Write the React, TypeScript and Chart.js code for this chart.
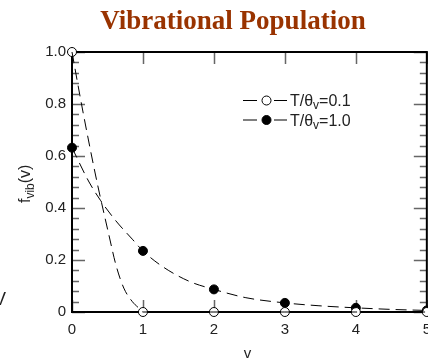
import { useEffect, useRef } from "react";
import { Chart, registerables } from "chart.js";
Chart.register(...registerables);

// Vibrational levels and populations (markers)
const vLevels = [0, 1, 2, 3, 4, 5];
const popLow = [1.0, 0, 0, 0, 0, 0]; // T/θv = 0.1
const popHigh = [0.632, 0.235, 0.087, 0.035, 0.016, 0.006]; // T/θv = 1.0

// Dashed curves
const curveLowV = [0, 0.12, 0.24, 0.36, 0.45, 0.52, 0.62, 0.73, 0.85, 0.95, 1.0, 2, 3, 4, 5];
const curveLowF = [1.0, 0.82, 0.65, 0.49, 0.38, 0.296, 0.18, 0.092, 0.04, 0.013, 0, 0, 0, 0, 0];
const curveHighV = [0, 0.24, 0.4, 0.62, 0.85, 1.0, 1.28, 1.66, 2.0, 2.45, 3.0, 3.48, 4.0, 4.5, 5.0];
const curveHighF = [0.632, 0.5, 0.43, 0.35, 0.28, 0.235, 0.174, 0.117, 0.087, 0.055, 0.035, 0.024, 0.016, 0.01, 0.006];

const xTicks = [0, 1, 2, 3, 4, 5];
const yTicks = [0, 0.2, 0.4, 0.6, 0.8, 1.0];

const titleText = "Vibrational Population";
const legendLabels = [
  { main: "T/θ", sub: "v", rest: "=0.1", filled: false },
  { main: "T/θ", sub: "v", rest: "=1.0", filled: true },
];

const SANS = '"Liberation Sans", Arial, Helvetica, sans-serif';
const SERIF = '"Liberation Serif", "Times New Roman", serif';

const zip = (xs: number[], ys: number[]) => xs.map((x, i) => ({ x, y: ys[i] }));

const framePlugin = {
  id: "frameTicks",
  beforeDatasetsDraw(chart: any) {
    const { ctx, chartArea: a, scales } = chart;
    const x = scales.x;
    const y = scales.y;
    ctx.save();
    ctx.strokeStyle = "#666";
    ctx.lineWidth = 1.5;
    ctx.beginPath();
    for (let i = 0; i <= 25; i++) {
      const py = Math.round(y.getPixelForValue(i * 0.04)) + 0.5;
      const len = i % 5 === 0 ? 13 : 7;
      ctx.moveTo(a.left, py);
      ctx.lineTo(a.left + len, py);
      ctx.moveTo(a.right, py);
      ctx.lineTo(a.right - len, py);
    }
    xTicks.forEach((v) => {
      const px = Math.round(x.getPixelForValue(v)) + 0.5;
      ctx.moveTo(px, a.bottom);
      ctx.lineTo(px, a.bottom - 12);
      ctx.moveTo(px, a.top);
      ctx.lineTo(px, a.top + 12);
    });
    ctx.stroke();
    ctx.strokeStyle = "#000";
    ctx.lineWidth = 2;
    ctx.strokeRect(a.left, a.top, a.right - a.left, a.bottom - a.top);
    ctx.restore();
  },
  afterDraw(chart: any) {
    const { ctx, chartArea: a } = chart;
    ctx.save();
    // Title
    ctx.fillStyle = "#993300";
    ctx.font = `bold 27px ${SERIF}`;
    ctx.textAlign = "center";
    ctx.textBaseline = "alphabetic";
    ctx.fillText(titleText, 233, 29);

    // Y axis title f_vib(v)
    ctx.fillStyle = "#222";
    ctx.translate(30, 203);
    ctx.rotate(-Math.PI / 2);
    ctx.textAlign = "left";
    ctx.font = `16px ${SANS}`;
    ctx.fillText("f", 0, 0);
    let w = ctx.measureText("f").width;
    ctx.font = `12px ${SANS}`;
    ctx.fillText("vib", w, 4);
    w += ctx.measureText("vib").width;
    ctx.font = `16px ${SANS}`;
    ctx.fillText("(v)", w, 0);
    ctx.setTransform(1, 0, 0, 1, 0, 0);

    // X axis title
    ctx.font = `15px ${SANS}`;
    ctx.textAlign = "center";
    ctx.fillText("v", (a.left + a.right) / 2 - 2, 358);

    // Cut-off letter at left edge
    ctx.font = `18px ${SANS}`;
    ctx.fillText("V", 0, 305);

    // Legend
    legendLabels.forEach((item, i) => {
      const cy = 100 + i * 19.5;
      ctx.strokeStyle = "#000";
      ctx.lineWidth = 1;
      ctx.beginPath();
      ctx.moveTo(243, cy + 0.5);
      ctx.lineTo(257, cy + 0.5);
      ctx.moveTo(274, cy + 0.5);
      ctx.lineTo(287, cy + 0.5);
      ctx.stroke();
      ctx.beginPath();
      ctx.arc(266.5, cy + 0.5, 4.5, 0, Math.PI * 2);
      ctx.fillStyle = item.filled ? "#000" : "#fff";
      ctx.fill();
      ctx.stroke();
      ctx.fillStyle = "#222";
      ctx.textAlign = "left";
      ctx.font = `16px ${SANS}`;
      let tx = 290;
      ctx.fillText(item.main, tx, cy + 6);
      tx += ctx.measureText(item.main).width;
      ctx.font = `12px ${SANS}`;
      ctx.fillText(item.sub, tx, cy + 9);
      tx += ctx.measureText(item.sub).width;
      ctx.font = `16px ${SANS}`;
      ctx.fillText(item.rest, tx, cy + 6);
    });
    ctx.restore();
  },
};

export default function App() {
  const ref = useRef<HTMLCanvasElement | null>(null);
  useEffect(() => {
    if (!ref.current) return;
    const chart = new Chart(ref.current, {
      type: "scatter",
      data: {
        datasets: [
          {
            data: zip(curveLowV, curveLowF),
            showLine: true,
            borderColor: "#000",
            borderWidth: 1,
            borderDash: [11, 6],
            pointRadius: 0,
            cubicInterpolationMode: "monotone",
            clip: false,
          } as any,
          {
            data: zip(curveHighV, curveHighF),
            showLine: true,
            borderColor: "#000",
            borderWidth: 1,
            borderDash: [11, 6],
            pointRadius: 0,
            cubicInterpolationMode: "monotone",
            clip: false,
          } as any,
          {
            data: zip(vLevels, popLow),
            showLine: false,
            pointRadius: 4.5,
            pointBackgroundColor: "#fff",
            pointBorderColor: "#000",
            pointBorderWidth: 1,
            clip: false,
          } as any,
          {
            data: zip(vLevels, popHigh),
            showLine: false,
            pointRadius: 4.5,
            pointBackgroundColor: "#000",
            pointBorderColor: "#000",
            pointBorderWidth: 1,
            clip: false,
          } as any,
        ],
      },
      options: {
        animation: false,
        responsive: false,
        devicePixelRatio: 1,
        layout: { padding: { top: 52, right: 11, left: 0, bottom: 0 } },
        plugins: { legend: { display: false }, tooltip: { enabled: false }, title: { display: false } },
        scales: {
          x: {
            type: "linear",
            min: 0,
            max: 5,
            afterFit: (s: any) => {
              s.height = 46;
            },
            afterBuildTicks: (s: any) => {
              s.ticks = xTicks.map((v) => ({ value: v }));
            },
            grid: { display: false, drawTicks: false },
            border: { display: false },
            ticks: {
              padding: 9,
              color: "#222",
              font: { family: SANS, size: 15 },
              callback: (v: any) => String(v),
              maxRotation: 0,
            },
          },
          y: {
            type: "linear",
            min: 0,
            max: 1,
            afterFit: (s: any) => {
              s.width = 72;
            },
            afterBuildTicks: (s: any) => {
              s.ticks = yTicks.map((v) => ({ value: v }));
            },
            grid: { display: false, drawTicks: false },
            border: { display: false },
            ticks: {
              padding: 6,
              color: "#222",
              font: { family: SANS, size: 15 },
              callback: (v: any) => (Number(v) === 0 ? "0" : Number(v).toFixed(1)),
            },
          },
        },
      },
      plugins: [framePlugin],
    });
    return () => chart.destroy();
  }, []);
  return (
    <div style={{ position: "fixed", left: 0, top: 0, width: 440, height: 358, background: "#fff" }}>
      <canvas ref={ref} width={440} height={358} style={{ display: "block" }} />
    </div>
  );
}
